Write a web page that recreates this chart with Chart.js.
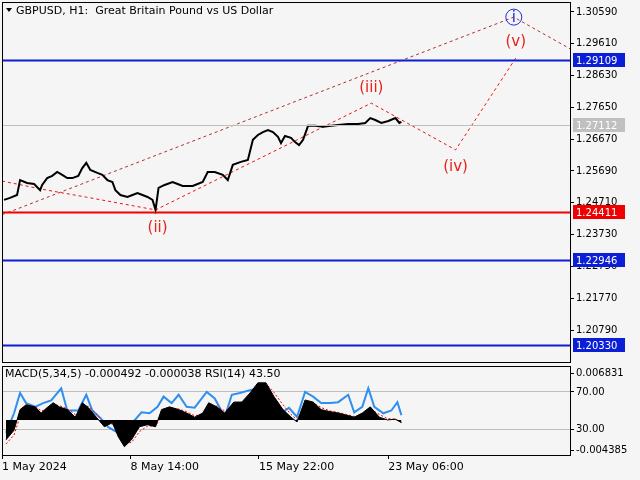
<!DOCTYPE html>
<html lang="en">
<head>
<meta charset="UTF-8" />
<script src="https://cdn.jsdelivr.net/npm/chart.js@4"></script>
<title>GBPUSD H1</title>
<style>
  body { margin: 0; background: #f5f5f5; width: 640px; height: 480px; overflow: hidden; position: relative; }
  #main { position: absolute; left: 0; top: 0; }
  #ind { position: absolute; left: 0; top: 364px; }
</style>
</head>
<body>
<canvas id="main" width="640" height="364"></canvas>
<canvas id="ind" width="640" height="116"></canvas>
<script>
// price path (bar index, close)
const priceX = [2,8,15,18,25,32,38,40,45,50,55,60,65,70,76,80,84,88,95,100,105,110,113,118,125,130,135,140,145,150,153,156,162,170,175,180,190,200,205,212,220,225,230,238,245,250,255,260,265,270,275,278,282,288,292,296,300,305,312,320,328,335,345,355,362,367,372,378,385,392,396,398];
const price  = [1.2480,1.2486,1.2495,1.2541,1.2532,1.2529,1.2510,1.2526,1.2547,1.2554,1.2566,1.2557,1.2547,1.2547,1.2554,1.2578,1.2594,1.2572,1.2563,1.2557,1.2541,1.2535,1.2510,1.2495,1.2489,1.2495,1.2501,1.2495,1.2489,1.2480,1.2449,1.2517,1.2526,1.2535,1.2529,1.2523,1.2523,1.2535,1.2566,1.2566,1.2557,1.2541,1.2588,1.2597,1.2603,1.2665,1.2680,1.2689,1.2695,1.2689,1.2674,1.2655,1.2677,1.2671,1.2658,1.2649,1.2665,1.2708,1.2708,1.2705,1.2708,1.2711,1.2714,1.2714,1.2717,1.2732,1.2726,1.2717,1.2723,1.2732,1.2717,1.2720];

// wave count (red dotted)
const waveX = [0,43,83,153,368,452,512];
const waveY = [1.2538,1.2511,1.2489,1.2449,1.2778,1.2634,1.2917];
const chanX = [0,510,568];
const chanY = [1.2434,1.3043,1.2942];
const waveLabels = [
  { text: "(ii)", x: 155, y: 1.2394, color: "#e8231b" },
  { text: "(iii)", x: 368, y: 1.2825, color: "#e8231b" },
  { text: "(iv)", x: 452, y: 1.2581, color: "#e8231b" },
  { text: "(v)", x: 512, y: 1.2966, color: "#e8231b" }
];
const circleLabel = { text: "i", x: 510, y: 1.3043 };

// levels
const levels = [
  { v: 1.29109, color: "#0a1fd6", label: "1.29109" },
  { v: 1.24411, color: "#f00000", label: "1.24411" },
  { v: 1.22946, color: "#0a1fd6", label: "1.22946" },
  { v: 1.20330, color: "#0a1fd6", label: "1.20330" },
  { v: 1.27112, color: "#c0c0c0", label: "1.27112" }
];
const priceTicks = [1.30590,1.29610,1.28630,1.27650,1.26670,1.25690,1.24710,1.23730,1.22750,1.21770,1.20790];

// indicator panel
const histX = [4,12,18,24,33,39,45,51,57,65,73,80,86,94,102,110,116,122,129,137,145,153,159,167,176,184,192,200,206,214,222,231,239,247,255,263,271,280,288,294,302,310,318,327,335,343,351,359,367,376,384,392,398];
const hist  = [-0.0029,-0.0015,0.0015,0.0022,0.0019,0.0010,0.0018,0.0025,0.0019,0.0015,0.0004,0.0025,0.0018,0.0004,-0.0010,-0.0004,-0.0025,-0.0039,-0.0029,-0.0010,-0.0007,-0.0010,0.0015,0.0019,0.0015,0.0010,0.0004,0.0010,0.0025,0.0019,0.0010,0.0026,0.0026,0.0039,0.0054,0.0054,0.0034,0.0015,0.0004,-0.0003,0.0029,0.0026,0.0015,0.0012,0.0010,0.0007,0.0004,0.0010,0.0019,0.0004,0.0000,0.0001,-0.0004];
const signal = [-0.0035,-0.0022,0.0005,0.0018,0.0020,0.0013,0.0015,0.0022,0.0021,0.0016,0.0008,0.0018,0.0020,0.0009,-0.0005,-0.0006,-0.0018,-0.0033,-0.0033,-0.0017,-0.0009,-0.0009,0.0006,0.0016,0.0016,0.0012,0.0006,0.0008,0.0020,0.0020,0.0013,0.0021,0.0025,0.0034,0.0048,0.0053,0.0040,0.0022,0.0008,0.0000,0.0020,0.0025,0.0018,0.0013,0.0011,0.0008,0.0005,0.0008,0.0016,0.0008,0.0002,0.0001,-0.0003];
const rsiX = [4,12,18,24,33,41,49,59,65,76,84,90,98,106,114,122,131,139,147,155,161,169,176,184,192,204,212,222,229,237,247,255,263,269,278,286,294,302,310,318,327,335,345,351,359,365,371,380,388,394,398];
const rsi  = [25.7,47,69,58,54,58,61,74,50,50,67,50,42,32,27,21,38,48,47,54,65,58,67,54,53,70,63,43,67,69,72,74,72,65,47,53,43,70,65,58,58,59,67,48,54,74,54,47,50,59,45];

const font = { family: "DejaVu Sans", size: 10 };
const xMax = 566;

const noPad = s => { s.width = 70; s.paddingTop = 0; s.paddingBottom = 0; };

const frame = {
  id: "frame",
  beforeDraw(c) {
    const g = c.ctx;
    g.save();
    g.fillStyle = "#f5f5f5";
    g.fillRect(0, 0, c.width, c.height);
    g.restore();
  },
  afterDraw(c) {
    const a = c.chartArea, g = c.ctx;
    g.save();
    g.strokeStyle = "#000";
    g.lineWidth = 1;
    g.strokeRect(a.left + 0.5, a.top + 0.5, a.right - a.left, a.bottom - a.top);
    g.restore();
  }
};

const overlay = {
  id: "overlay",
  afterDatasetsDraw(c) {
    const g = c.ctx, a = c.chartArea, xs = c.scales.x, ys = c.scales.y;
    g.save();
    levels.forEach(l => {
      const y = Math.round(ys.getPixelForValue(l.v)) + 0.5;
      g.strokeStyle = l.color;
      g.lineWidth = l.color === "#c0c0c0" ? 1 : 2;
      g.beginPath(); g.moveTo(a.left, y); g.lineTo(a.right, y); g.stroke();
    });
    g.font = "15px 'DejaVu Sans'";
    g.textAlign = "center"; g.textBaseline = "middle";
    waveLabels.forEach(l => {
      g.fillStyle = l.color;
      g.fillText(l.text, xs.getPixelForValue(l.x), ys.getPixelForValue(l.y));
    });
    const cx = xs.getPixelForValue(circleLabel.x), cy = ys.getPixelForValue(circleLabel.y);
    g.strokeStyle = "#1a2fd6"; g.lineWidth = 1;
    g.beginPath(); g.arc(cx, cy, 8, 0, Math.PI * 2); g.stroke();
    g.fillStyle = "#1a2fd6";
    g.fillText(circleLabel.text, cx, cy + 1);
    g.textAlign = "left";
    g.fillStyle = "#000";
    g.font = "11px 'DejaVu Sans'";
    g.beginPath(); g.moveTo(6, 8); g.lineTo(12, 8); g.lineTo(9, 12); g.closePath(); g.fill();
    g.fillText("GBPUSD, H1:  Great Britain Pound vs US Dollar", 16, 11);
    g.restore();
  },
  afterDraw(c) {
    const g = c.ctx, a = c.chartArea, ys = c.scales.y;
    g.save();
    g.font = "10px 'DejaVu Sans'";
    g.textBaseline = "middle"; g.textAlign = "left";
    levels.forEach(l => {
      const y = Math.round(ys.getPixelForValue(l.v));
      g.fillStyle = l.color;
      g.fillRect(a.right + 3, y - 7, 52, 14);
      g.fillStyle = "#fff";
      g.fillText(l.label, a.right + 6, y + 1);
    });
    g.restore();
  }
};

new Chart(document.getElementById("main"), {
  type: "line",
  data: {
    datasets: [
      { data: priceX.map((x, i) => ({ x, y: price[i] })), borderColor: "#000", borderWidth: 2, pointRadius: 0, tension: 0 },
      { data: waveX.map((x, i) => ({ x, y: waveY[i] })), borderColor: "#f01010", borderWidth: 1, borderDash: [3, 3], pointRadius: 0 },
      { data: chanX.map((x, i) => ({ x, y: chanY[i] })), borderColor: "#b03030", borderWidth: 1, borderDash: [3, 3], pointRadius: 0 }
    ]
  },
  options: {
    responsive: false, animation: false,
    layout: { padding: { top: 2, left: 2, bottom: 2, right: 0 } },
    plugins: { legend: { display: false }, tooltip: { enabled: false } },
    scales: {
      x: { type: "linear", min: 0, max: xMax, display: false },
      y: {
        position: "right", min: 1.19805, max: 1.30896,
        afterFit: noPad,
        afterBuildTicks: s => { s.ticks = priceTicks.map(v => ({ value: v })); },
        grid: { drawOnChartArea: false, color: "#000", tickLength: 4 },
        border: { color: "#000" },
        ticks: { color: "#000", font, padding: 2, callback: v => v.toFixed(5) }
      }
    }
  },
  plugins: [frame, overlay]
});

const indText = {
  id: "indText",
  afterDraw(c) {
    const g = c.ctx;
    g.save();
    g.font = "11px 'DejaVu Sans'";
    g.fillStyle = "#000"; g.textBaseline = "middle";
    g.fillText("MACD(5,34,5) -0.000492 -0.000038 RSI(14) 43.50", 5, 10);
    g.restore();
  }
};

const rsiTicks = [90.5, 70, 30, 7.3];
const rsiTickLabels = { 90.5: "0.006831", 70: "70.00", 30: "30.00", 7.3: "-0.004385" };

new Chart(document.getElementById("ind"), {
  type: "line",
  data: {
    datasets: [
      { data: histX.map((x, i) => ({ x, y: hist[i] })), yAxisID: "yM", borderColor: "#000", backgroundColor: "#000", fill: "origin", borderWidth: 1, pointRadius: 0 },
      { data: histX.map((x, i) => ({ x, y: signal[i] })), yAxisID: "yM", borderColor: "#f00", borderWidth: 1, borderDash: [2, 2], pointRadius: 0 },
      { data: rsiX.map((x, i) => ({ x, y: rsi[i] })), yAxisID: "yR", borderColor: "#2e8ff0", borderWidth: 2, pointRadius: 0 }
    ]
  },
  options: {
    responsive: false, animation: false,
    layout: { padding: { top: 2, left: 2, bottom: 0, right: 0 } },
    plugins: { legend: { display: false }, tooltip: { enabled: false } },
    scales: {
      x: {
        type: "linear", min: 0, max: xMax,
        afterFit: s => { s.height = 25; },
        afterBuildTicks: s => { s.ticks = [0, 128, 256, 385].map(v => ({ value: v })); },
        grid: { drawOnChartArea: false, color: "#000", tickLength: 4 },
        border: { color: "#000" },
        ticks: {
          color: "#000", font: { family: "DejaVu Sans", size: 11 }, align: "start", maxRotation: 0, padding: 2,
          callback: v => ({ 0: "1 May 2024", 128: "8 May 14:00", 256: "15 May 22:00", 385: "23 May 06:00" })[v]
        }
      },
      yM: { display: false, min: -0.00511, max: 0.00785 },
      yR: {
        position: "right", min: 1.9, max: 98.1,
        afterFit: noPad,
        afterBuildTicks: s => { s.ticks = rsiTicks.map(v => ({ value: v })); },
        grid: {
          color: ctx => (ctx.tick && (ctx.tick.value === 70 || ctx.tick.value === 30)) ? "#bdbdbd" : "rgba(0,0,0,0)",
          tickColor: "#000", tickLength: 4
        },
        border: { color: "#000" },
        ticks: { color: "#000", font, padding: 2, callback: v => rsiTickLabels[v] }
      }
    }
  },
  plugins: [frame, indText]
});
</script>
</body>
</html>
